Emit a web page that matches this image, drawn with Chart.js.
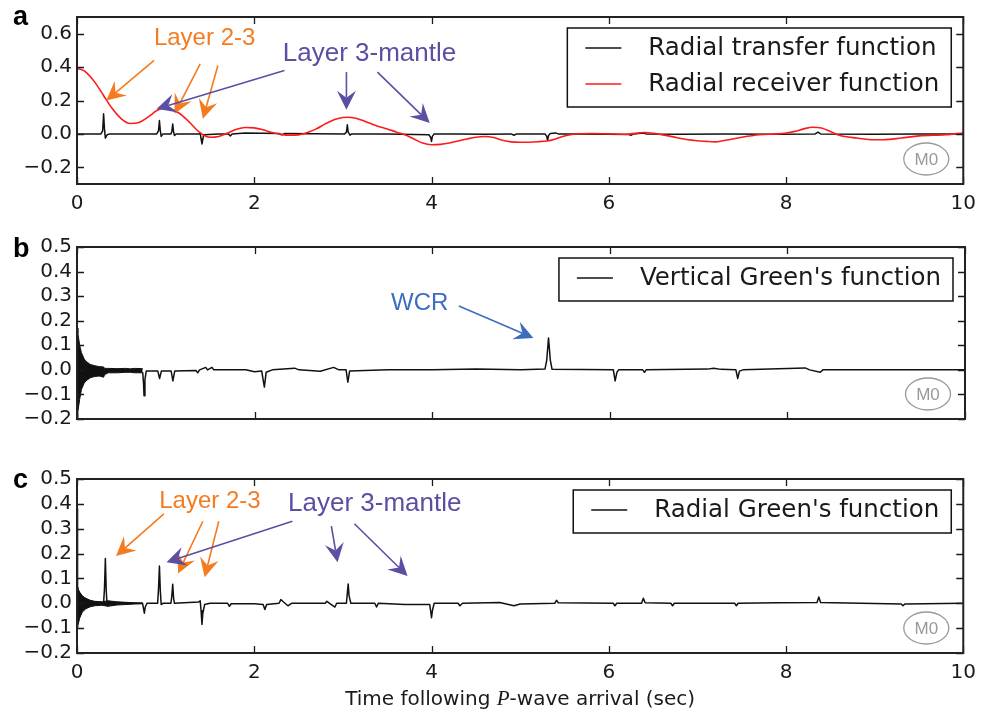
<!DOCTYPE html>
<html><head><meta charset="utf-8">
<script src="https://cdn.jsdelivr.net/npm/chart.js@4.4.1/dist/chart.umd.min.js"></script>
<style>
html,body{margin:0;padding:0;background:#fff;}
#wrap{position:relative;width:984px;height:713px;overflow:hidden;background:#fff;}
canvas{position:absolute;left:0;}
</style></head><body>
<div id="wrap">
<canvas id="ca" width="984" height="230" style="top:0px"></canvas>
<canvas id="cb" width="984" height="230" style="top:230px"></canvas>
<canvas id="cc" width="984" height="253" style="top:460px"></canvas>
</div>
<script>
// ---------- tick labels ----------
const xTicks = [0, 2, 4, 6, 8, 10];
const yTicksA = [-0.2, 0.0, 0.2, 0.4, 0.6];
const yTicksBC = [-0.2, -0.1, 0.0, 0.1, 0.2, 0.3, 0.4, 0.5];

// ---------- series names ----------
const nameTransfer = "Radial transfer function";
const nameReceiver = "Radial receiver function";
const nameVertical = "Vertical Green's function";
const nameRadial = "Radial Green's function";
const xTitleParts = ["Time following ", "P", "-wave arrival (sec)"];

// ---------- panel a: radial transfer function [time, value] ----------
const transferFn = [[0,0],[0.27,0],[0.29,0.02],[0.3,0.12],[0.31,0.03],[0.32,-0.025],[0.34,-0.005],[0.37,0],
[0.9,0],[0.92,0.02],[0.93,0.08],[0.94,0.02],[0.95,-0.015],[0.97,0],[1.06,0],[1.07,0.015],[1.08,0.06],[1.09,0.01],[1.1,-0.01],[1.12,0],
[1.38,0],[1.39,0.005],[1.4,-0.03],[1.41,-0.06],[1.43,-0.005],[1.6,0],[1.71,0],[1.73,-0.012],[1.75,0],[1.9,0.005],[2.28,0.003],[2.31,-0.006],[2.34,0.002],
[3.02,0],[3.04,0.01],[3.05,0.055],[3.06,0.01],[3.08,-0.008],[3.1,0],[3.5,0],[3.97,-0.005],[3.99,-0.02],[4.0,-0.045],[4.01,-0.015],[4.03,0],
[4.3,0],[4.6,-0.002],[4.9,0],[4.93,-0.008],[4.96,0],[5.28,0],[5.3,-0.015],[5.31,-0.04],[5.32,-0.01],[5.34,0.002],[5.4,0.006],[5.43,0],
[5.6,0],[6.0,-0.002],[6.22,-0.003],[6.25,-0.008],[6.28,0],[6.39,0.005],[6.42,0],[6.8,-0.002],[7.3,0],[7.9,-0.002],[8.33,0],[8.36,0.01],[8.39,0],[9.0,-0.002],[9.5,0],[10,0]];

// ---------- panel a: radial receiver function [time, value] ----------
const receiverFn = [[0,0.39],[0.05,0.385],[0.1,0.37],[0.2,0.31],[0.3,0.23],[0.4,0.15],[0.5,0.09],[0.6,0.062],[0.7,0.068],[0.8,0.1],
[0.9,0.14],[0.97,0.153],[1.05,0.15],[1.15,0.125],[1.25,0.08],[1.35,0.025],[1.42,-0.005],[1.5,-0.02],[1.6,-0.015],[1.7,0.005],[1.8,0.028],
[1.9,0.038],[2.0,0.036],[2.1,0.025],[2.2,0.008],[2.3,-0.003],[2.4,-0.008],[2.5,-0.006],[2.6,0.008],[2.7,0.03],[2.8,0.06],[2.9,0.085],
[3.0,0.098],[3.05,0.1],[3.1,0.098],[3.2,0.085],[3.3,0.065],[3.4,0.045],[3.5,0.03],[3.6,0.012],[3.7,-0.005],[3.8,-0.03],[3.9,-0.055],
[4.0,-0.065],[4.1,-0.063],[4.2,-0.055],[4.3,-0.042],[4.4,-0.03],[4.5,-0.02],[4.6,-0.016],[4.7,-0.022],[4.8,-0.038],[4.9,-0.048],[5.0,-0.05],
[5.2,-0.047],[5.3,-0.043],[5.4,-0.03],[5.5,-0.012],[5.6,-0.002],[5.8,0.002],[6.0,0.0],[6.2,-0.002],[6.4,0.008],[6.5,0.004],[6.7,-0.015],
[6.9,-0.035],[7.1,-0.045],[7.2,-0.048],[7.3,-0.04],[7.5,-0.02],[7.7,-0.005],[7.9,0.0],[8.0,0.005],[8.1,0.015],[8.2,0.03],[8.3,0.04],
[8.4,0.035],[8.5,0.015],[8.6,-0.008],[8.8,-0.025],[9.0,-0.035],[9.1,-0.035],[9.3,-0.025],[9.5,-0.012],[9.8,-0.005],[10,0.005]];

// ---------- panel b: vertical Green's function ----------
// early ringing envelope [time, upper, lower]
const verticalRinging = [[0,0.17,-0.2],[0.01,0.15,-0.17],[0.03,0.1,-0.12],[0.05,0.07,-0.08],[0.08,0.045,-0.055],[0.1,0.035,-0.045],
[0.15,0.022,-0.032],[0.2,0.017,-0.027],[0.25,0.013,-0.025],[0.3,0.012,-0.03],[0.31,0.006,-0.02],[0.35,0.006,-0.012],[0.45,0.005,-0.012],
[0.55,0.006,-0.01],[0.6,0.004,-0.01],[0.65,0.006,-0.012],[0.74,0.005,-0.012]];
const verticalFn = [[0.74,-0.01],[0.75,-0.06],[0.755,-0.105],[0.765,-0.04],[0.78,-0.005],[0.91,-0.005],[0.93,-0.035],[0.95,-0.005],
[1.06,-0.005],[1.08,-0.045],[1.1,-0.005],[1.34,-0.003],[1.36,-0.012],[1.38,0.0],[1.45,0.01],[1.47,0.0],[1.52,0.01],[1.54,0.0],[1.9,0.0],
[2.0,-0.008],[2.08,-0.005],[2.11,-0.07],[2.13,-0.01],[2.2,0.0],[2.45,0.007],[2.5,0.0],[2.74,-0.006],[2.89,0.01],[2.95,0.0],[3.03,0.0],
[3.05,-0.05],[3.07,-0.005],[3.5,0.0],[4.0,0.0],[4.5,0.003],[5.0,0.0],[5.27,0.003],[5.29,0.04],[5.31,0.13],[5.33,0.04],[5.35,0.002],
[6.04,0.0],[6.06,-0.045],[6.08,-0.01],[6.1,0.0],[6.37,0.0],[6.39,-0.01],[6.41,0.0],[7.1,0.003],[7.17,0.007],[7.25,0.002],[7.42,0.0],
[7.44,-0.035],[7.46,-0.005],[7.5,0.0],[8.2,0.008],[8.25,0.0],[8.37,-0.01],[8.4,0.0],[9.0,0.0],[10,0.0]];

// ---------- panel c: radial Green's function ----------
const radialRinging = [[0,0.065,-0.1],[0.01,0.06,-0.09],[0.03,0.045,-0.06],[0.06,0.03,-0.035],[0.1,0.02,-0.022],[0.15,0.012,-0.014],
[0.2,0.008,-0.01],[0.28,0.006,-0.008],[0.35,0.01,-0.012],[0.45,0.006,-0.007],[0.55,0.004,-0.005],[0.65,0.002,-0.003],[0.74,0.001,-0.002]];
const radialFn = [[0,0.38],[0.006,0.0],[0.3,0.0],[0.31,0.06],[0.32,0.18],[0.33,0.05],[0.34,-0.01],[0.36,0.0],[0.74,0.0],[0.75,-0.02],
[0.76,-0.04],[0.77,-0.015],[0.79,0.0],[0.91,0.0],[0.92,0.06],[0.93,0.15],[0.94,0.05],[0.95,-0.005],[0.97,0.0],[1.06,0.0],[1.07,0.03],
[1.08,0.077],[1.09,0.02],[1.1,0.0],[1.37,0.005],[1.39,0.01],[1.4,-0.03],[1.41,-0.085],[1.42,-0.04],[1.44,-0.005],[1.5,0.0],[1.7,0.0],
[1.72,-0.012],[1.74,-0.002],[2.0,-0.002],[2.1,-0.005],[2.12,-0.025],[2.14,-0.005],[2.28,0.0],[2.3,0.015],[2.33,0.005],[2.38,-0.01],
[2.42,0.0],[2.8,0.0],[2.82,0.008],[2.85,0.0],[2.91,-0.015],[2.93,0.0],[3.04,0.0],[3.05,0.04],[3.06,0.078],[3.07,0.03],[3.09,0.0],
[3.36,0.0],[3.38,-0.015],[3.4,0.0],[3.7,-0.005],[3.98,-0.005],[3.99,-0.03],[4.0,-0.058],[4.01,-0.03],[4.03,0.0],[4.3,0.0],[4.32,-0.01],
[4.35,0.0],[4.77,0.003],[4.93,-0.01],[5.0,-0.003],[5.39,0.0],[5.41,0.012],[5.43,0.002],[6.05,0.0],[6.07,-0.01],[6.09,0.0],[6.37,0.0],
[6.39,0.02],[6.41,0.002],[6.7,0.0],[6.72,-0.01],[6.74,0.0],[7.42,0.0],[7.44,-0.01],[7.46,0.0],[7.9,0.002],[8.35,0.003],[8.37,0.025],
[8.39,0.003],[9.3,-0.003],[9.32,-0.01],[9.34,-0.003],[10,0.0]];

// ---------- annotations (data coordinates) ----------
const ORANGE = '#F47B20', PURPLE = '#5B4FA3', BLUE = '#3D6CC0';
const notesA = [{t:'Layer 2-3', x:1.44, y:0.575, c:ORANGE, s:24}, {t:'Layer 3-mantle', x:3.30, y:0.48, c:PURPLE, s:26}];
const arrowsA = [
  {f:[0.87,0.44], to:[0.33,0.20], c:ORANGE}, {f:[1.39,0.42], to:[1.10,0.12], c:ORANGE}, {f:[1.59,0.41], to:[1.42,0.09], c:ORANGE},
  {f:[2.34,0.38], to:[0.90,0.15], c:PURPLE}, {f:[3.04,0.37], to:[3.04,0.145], c:PURPLE}, {f:[3.39,0.37], to:[3.98,0.065], c:PURPLE}];
const notesB = [{t:'WCR', x:3.86, y:0.27, c:BLUE, s:24}];
const arrowsB = [{f:[4.30,0.26], to:[5.14,0.13], c:BLUE}];
const notesC = [{t:'Layer 2-3', x:1.50, y:0.41, c:ORANGE, s:24}, {t:'Layer 3-mantle', x:3.36, y:0.40, c:PURPLE, s:26}];
const arrowsC = [
  {f:[0.98,0.36], to:[0.44,0.19], c:ORANGE}, {f:[1.42,0.33], to:[1.14,0.12], c:ORANGE}, {f:[1.60,0.33], to:[1.44,0.105], c:ORANGE},
  {f:[2.43,0.33], to:[1.01,0.165], c:PURPLE}, {f:[2.87,0.31], to:[2.94,0.165], c:PURPLE}, {f:[3.13,0.32], to:[3.73,0.11], c:PURPLE}];

const TXT = '#1a1a1a';
const pts = arr => arr.map(p => ({x:p[0], y:p[1]}));

function drawArrow(ctx, x1, y1, x2, y2, color){
  const ang = Math.atan2(y2-y1, x2-x1), L = 19, W = 9.5, N = 7;
  const c = Math.cos(ang), s = Math.sin(ang);
  const bx = x2 - L*c, by = y2 - L*s, nx = x2 - (L-N)*c, ny = y2 - (L-N)*s;
  ctx.strokeStyle = color; ctx.fillStyle = color; ctx.lineWidth = 1.6;
  ctx.beginPath(); ctx.moveTo(x1,y1); ctx.lineTo(nx,ny); ctx.stroke();
  ctx.beginPath(); ctx.moveTo(x2,y2); ctx.lineTo(bx - s*W, by + c*W); ctx.lineTo(nx,ny); ctx.lineTo(bx + s*W, by - c*W); ctx.closePath(); ctx.fill();
}

const decor = {
  id: 'decor',
  afterDatasetsDraw(chart, args, o) {
    const ctx = chart.ctx, a = chart.chartArea, xs = chart.scales.x, ys = chart.scales.y;
    ctx.save();
    // inward ticks on all sides
    ctx.strokeStyle = TXT; ctx.lineWidth = 1.3;
    ctx.beginPath();
    xs.ticks.forEach(t => { const p = Math.round(xs.getPixelForValue(t.value)) + 0.5;
      ctx.moveTo(p, a.bottom); ctx.lineTo(p, a.bottom - 7); ctx.moveTo(p, a.top); ctx.lineTo(p, a.top + 7); });
    ys.ticks.forEach(t => { const p = Math.round(ys.getPixelForValue(t.value)) + 0.5;
      ctx.moveTo(a.left, p); ctx.lineTo(a.left + 7, p); ctx.moveTo(a.right, p); ctx.lineTo(a.right - 7, p); });
    ctx.stroke();
    // annotations
    ctx.textAlign = 'center'; ctx.textBaseline = 'middle';
    (o.notes || []).forEach(n => {
      ctx.font = n.s + 'px "Liberation Sans", Arial, sans-serif'; ctx.fillStyle = n.c;
      ctx.fillText(n.t, xs.getPixelForValue(n.x), ys.getPixelForValue(n.y));
    });
    (o.arrows || []).forEach(r => drawArrow(ctx, xs.getPixelForValue(r.f[0]), ys.getPixelForValue(r.f[1]),
      xs.getPixelForValue(r.to[0]), ys.getPixelForValue(r.to[1]), r.c));
    // M0 badge
    const mx = a.right - 37, my = a.bottom - 25;
    ctx.strokeStyle = '#9a9a9a'; ctx.lineWidth = 1.3;
    ctx.beginPath(); ctx.ellipse(mx, my, 22.5, 16, 0, 0, Math.PI*2); ctx.stroke();
    ctx.fillStyle = '#9a9a9a'; ctx.font = '17px "Liberation Sans Narrow", "Liberation Sans", sans-serif';
    ctx.fillText('M0', mx, my + 1);
    // legend
    const items = chart.data.datasets.filter(d => d.inLegend);
    ctx.font = '24.5px "DejaVu Sans", sans-serif';
    const tw = Math.max(...items.map(d => ctx.measureText(d.label).width));
    const boxR = a.right - 12, textX = boxR - 12 - tw, boxL = textX - 81;
    const boxT = a.top + 11, rowH = 36, boxB = boxT + 20 + (items.length - 1) * rowH + 23;
    ctx.fillStyle = '#fff'; ctx.fillRect(boxL, boxT, boxR - boxL, boxB - boxT);
    ctx.strokeStyle = '#111'; ctx.lineWidth = 1.5; ctx.strokeRect(boxL, boxT, boxR - boxL, boxB - boxT);
    items.forEach((d, i) => {
      const ry = boxT + 20 + i * rowH;
      ctx.strokeStyle = d.borderColor; ctx.lineWidth = 1.5;
      ctx.beginPath(); ctx.moveTo(boxL + 18, ry); ctx.lineTo(textX - 27, ry); ctx.stroke();
      ctx.fillStyle = TXT; ctx.textAlign = 'left'; ctx.fillText(d.label, textX, ry + 1);
    });
    // frame
    ctx.strokeStyle = '#222'; ctx.lineWidth = 2;
    ctx.strokeRect(a.left, a.top, a.right - a.left, a.bottom - a.top);
    // panel letter
    ctx.fillStyle = '#000'; ctx.font = 'bold 27px "Liberation Sans", Arial, sans-serif';
    ctx.textAlign = 'left'; ctx.textBaseline = 'alphabetic';
    ctx.fillText(o.letter, 13, o.letterY);
    // x axis title
    if (o.xTitle) {
      const f1 = '20px "DejaVu Sans", sans-serif', f2 = 'italic 21px "Liberation Serif", serif';
      ctx.font = f1; const w1 = ctx.measureText(xTitleParts[0]).width, w3 = ctx.measureText(xTitleParts[2]).width;
      ctx.font = f2; const w2 = ctx.measureText(xTitleParts[1]).width;
      let x = (a.left + a.right) / 2 - (w1 + w2 + w3) / 2; const y = a.bottom + 52;
      ctx.fillStyle = TXT;
      ctx.font = f1; ctx.fillText(xTitleParts[0], x, y); x += w1;
      ctx.font = f2; ctx.fillText(xTitleParts[1], x, y); x += w2;
      ctx.font = f1; ctx.fillText(xTitleParts[2], x, y);
    }
    ctx.restore();
  }
};

function makeOptions(cfg) {
  return {
    responsive: false, animation: false, devicePixelRatio: 1,
    layout: { padding: { top: cfg.padTop, right: 19, left: 0, bottom: 0 } },
    plugins: { legend: { display: false }, tooltip: { enabled: false },
      decor: { notes: cfg.notes, arrows: cfg.arrows, letter: cfg.letter, letterY: cfg.letterY, xTitle: cfg.xTitle } },
    elements: { point: { radius: 0 }, line: { borderJoinStyle: 'round' } },
    scales: {
      x: { type: 'linear', min: 0, max: 10,
        afterBuildTicks: s => { s.ticks = xTicks.map(v => ({ value: v })); },
        afterFit: s => { s.height = cfg.xH; },
        grid: { display: false, drawTicks: false }, border: { display: false },
        ticks: { display: cfg.xLabels, autoSkip: false, maxRotation: 0, padding: 8, color: TXT,
          font: { family: '"DejaVu Sans", sans-serif', size: 20 }, callback: v => String(v) } },
      y: { type: 'linear', min: cfg.yMin, max: cfg.yMax,
        afterBuildTicks: s => { s.ticks = cfg.yTicks.map(v => ({ value: v })); },
        afterFit: s => { s.width = 77; },
        grid: { display: false, drawTicks: false }, border: { display: false },
        ticks: { autoSkip: false, padding: 5, color: TXT,
          font: { family: '"DejaVu Sans", sans-serif', size: 20 },
          callback: v => (Math.abs(v) < 1e-9 ? 0 : v).toFixed(1).replace('-', '\u2212') } }
    }
  };
}

// Panel a
new Chart(document.getElementById('ca'), {
  type: 'line',
  data: { datasets: [
    { label: nameTransfer, inLegend: true, data: pts(transferFn), borderColor: '#111', borderWidth: 1.5, tension: 0, order: 1 },
    { label: nameReceiver, inLegend: true, data: pts(receiverFn), borderColor: '#ff1a1a', borderWidth: 1.6, tension: 0.4, cubicInterpolationMode: 'monotone', order: 0 }
  ] },
  options: makeOptions({ padTop: 12, xH: 46, xLabels: true, yMin: -0.3, yMax: 0.7, yTicks: yTicksA,
    notes: notesA, arrows: arrowsA, letter: 'a', letterY: 25, xTitle: false }),
  plugins: [decor]
});

// Panel b
new Chart(document.getElementById('cb'), {
  type: 'line',
  data: { datasets: [
    { label: 'ringing upper', data: verticalRinging.map(p => ({x:p[0], y:p[1]})), borderColor: '#111', backgroundColor: '#111', borderWidth: 1, fill: '+1', tension: 0 },
    { label: 'ringing lower', data: verticalRinging.map(p => ({x:p[0], y:p[2]})), borderColor: '#111', borderWidth: 1, fill: false, tension: 0 },
    { label: nameVertical, inLegend: true, data: pts(verticalFn), borderColor: '#111', borderWidth: 1.5, tension: 0 }
  ] },
  options: makeOptions({ padTop: 15, xH: 41, xLabels: false, yMin: -0.2, yMax: 0.5, yTicks: yTicksBC,
    notes: notesB, arrows: arrowsB, letter: 'b', letterY: 27, xTitle: false }),
  plugins: [decor]
});

// Panel c
new Chart(document.getElementById('cc'), {
  type: 'line',
  data: { datasets: [
    { label: 'ringing upper', data: radialRinging.map(p => ({x:p[0], y:p[1]})), borderColor: '#111', backgroundColor: '#111', borderWidth: 1, fill: '+1', tension: 0 },
    { label: 'ringing lower', data: radialRinging.map(p => ({x:p[0], y:p[2]})), borderColor: '#111', borderWidth: 1, fill: false, tension: 0 },
    { label: nameRadial, inLegend: true, data: pts(radialFn), borderColor: '#111', borderWidth: 1.5, tension: 0 }
  ] },
  options: makeOptions({ padTop: 19, xH: 60, xLabels: true, yMin: -0.2, yMax: 0.5, yTicks: yTicksBC,
    notes: notesC, arrows: arrowsC, letter: 'c', letterY: 28, xTitle: true }),
  plugins: [decor]
});
</script>
</body></html>
